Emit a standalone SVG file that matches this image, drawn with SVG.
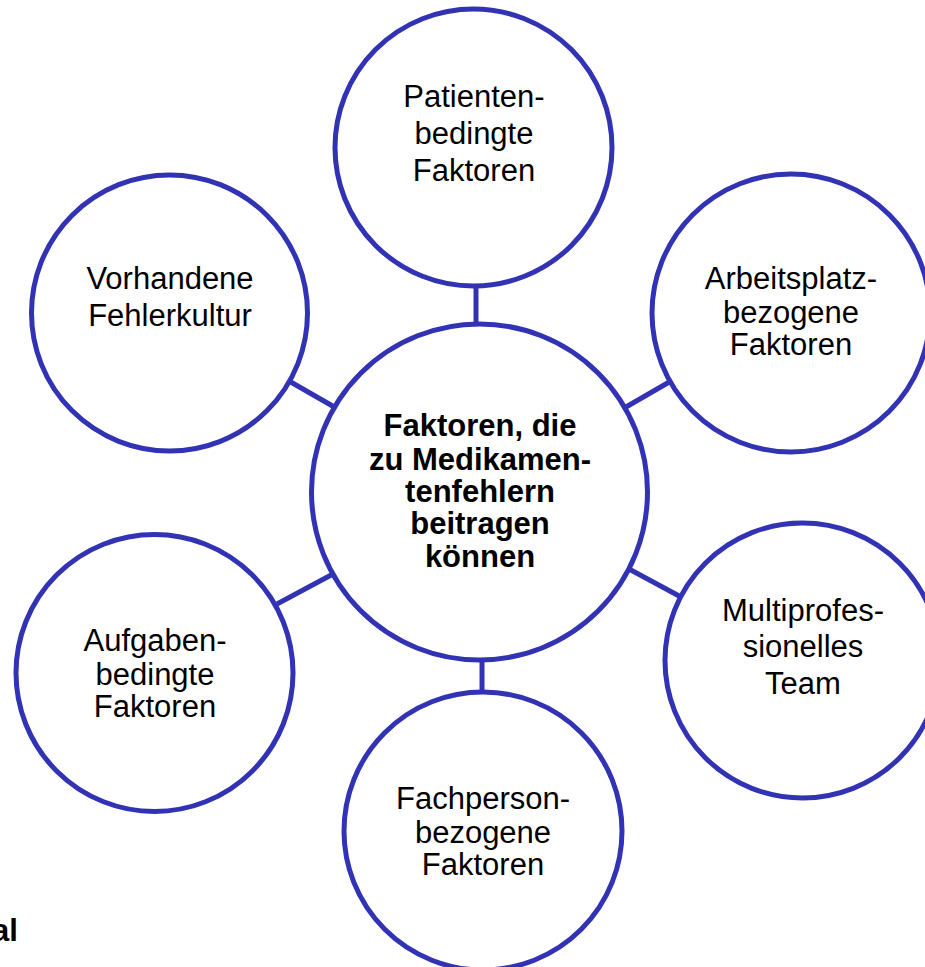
<svg xmlns="http://www.w3.org/2000/svg" width="925" height="967" viewBox="0 0 925 967">
<style>
.c{fill:#fff;stroke:#3232B4;stroke-width:5}
.e{stroke:#3232B4;stroke-width:5;fill:none}
text{font-family:"Liberation Sans",Arial,sans-serif;font-size:31px;fill:#000;text-anchor:middle}
.b{font-weight:bold}
</style>
<rect width="925" height="967" fill="#fff"/>
<g id="connectors">
<line class="e" x1="476" y1="285" x2="476" y2="325"/>
<line class="e" x1="289" y1="381" x2="336" y2="408"/>
<line class="e" x1="671" y1="381" x2="626" y2="407"/>
<line class="e" x1="277" y1="604" x2="333" y2="574"/>
<line class="e" x1="629" y1="569" x2="681" y2="597"/>
<line class="e" x1="482" y1="659" x2="482" y2="694"/>
</g>
<g id="center">
<circle class="c" cx="479.5" cy="492" r="168"/>
<text class="b" x="480" y="436">Faktoren, die</text>
<text class="b" x="480" y="470">zu Medikamen-</text>
<text class="b" x="480" y="502">tenfehlern</text>
<text class="b" x="480" y="534">beitragen</text>
<text class="b" x="480" y="567">können</text>
</g>
<g id="patient">
<circle class="c" cx="473.5" cy="147.5" r="138.5"/>
<text x="474" y="107">Patienten-</text>
<text x="474" y="144">bedingte</text>
<text x="474" y="181">Faktoren</text>
</g>
<g id="fehlerkultur">
<circle class="c" cx="169.5" cy="313" r="138"/>
<text x="170" y="289">Vorhandene</text>
<text x="170" y="326">Fehlerkultur</text>
</g>
<g id="arbeitsplatz">
<circle class="c" cx="791" cy="313" r="139"/>
<text x="791" y="289">Arbeitsplatz-</text>
<text x="791" y="323">bezogene</text>
<text x="791" y="355">Faktoren</text>
</g>
<g id="aufgaben">
<circle class="c" cx="154.5" cy="673" r="138.5"/>
<text x="155" y="651">Aufgaben-</text>
<text x="155" y="685">bedingte</text>
<text x="155" y="717">Faktoren</text>
</g>
<g id="team">
<circle class="c" cx="802.5" cy="660.5" r="137.5"/>
<text x="803" y="621">Multiprofes-</text>
<text x="803" y="657">sionelles</text>
<text x="803" y="694">Team</text>
</g>
<g id="fachperson">
<circle class="c" cx="483" cy="831" r="139"/>
<text x="483" y="809">Fachperson-</text>
<text x="483" y="843">bezogene</text>
<text x="483" y="875">Faktoren</text>
</g>
<text class="b" x="-8" y="941" style="text-anchor:start">al</text>
</svg>
